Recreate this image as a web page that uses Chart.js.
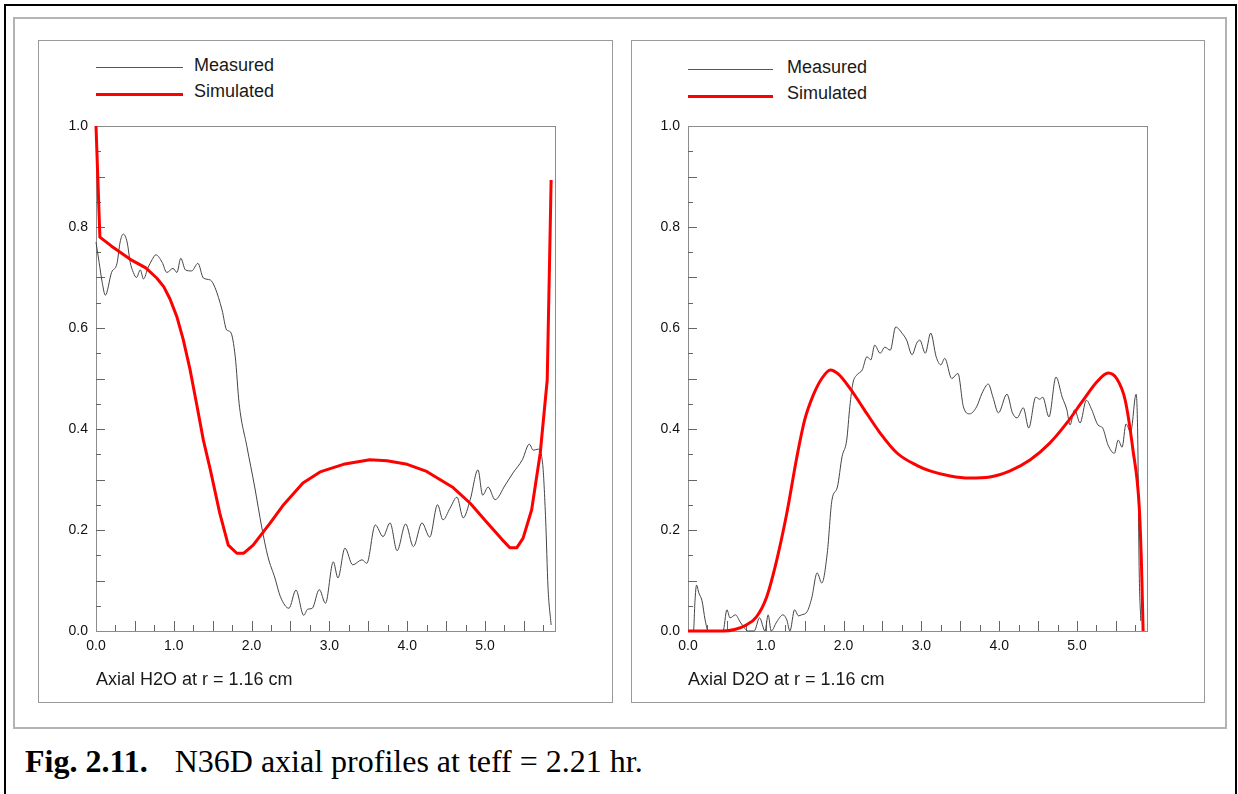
<!DOCTYPE html>
<html>
<head>
<meta charset="utf-8">
<title>N36D axial profiles</title>
<script src="https://cdn.jsdelivr.net/npm/chart.js@4.4.1/dist/chart.umd.min.js"></script>
<style>
  body { margin: 0; background: #fff; width: 1238px; height: 794px; overflow: hidden; position: relative;
         font-family: "Liberation Sans", Arial, sans-serif; }
  .box { position: absolute; box-sizing: border-box; }
  #outer { left: 4px; top: 4px; width: 1233px; height: 820px; border: 2px solid #000; }
  #frame { left: 13px; top: 17px; width: 1214px; height: 712px; border: 2px solid #b4b4b4; }
  .panel { top: 40px; height: 663px; border: 1px solid #9a9a9a; }
  #panelL { left: 38px; width: 575px; }
  #panelR { left: 631px; width: 574px; }
  canvas { position: absolute; }
  .leg-line { position: absolute; height: 0; }
  .leg-text { position: absolute; font-size: 18px; line-height: 18px; color: #1a1a1a; white-space: nowrap; }
  #caption { position: absolute; left: 25px; top: 745px; font-family: "Liberation Serif", "Times New Roman", serif;
             font-size: 32px; line-height: 32px; color: #000; white-space: nowrap; }
  #caption b { margin-right: 27px; }
</style>
</head>
<body>
<div id="outer" class="box"></div>
<div id="frame" class="box"></div>
<div id="panelL" class="box panel"></div>
<div id="panelR" class="box panel"></div>

<!-- legends -->
<div class="leg-line" style="left:96px; top:67px; width:87px; border-top:1px solid #555;"></div>
<div class="leg-text" style="left:194px; top:56px;">Measured</div>
<div class="leg-line" style="left:96px; top:93px; width:87px; border-top:3px solid #f00;"></div>
<div class="leg-text" style="left:194px; top:82px;">Simulated</div>

<div class="leg-line" style="left:688px; top:69px; width:85px; border-top:1px solid #555;"></div>
<div class="leg-text" style="left:787px; top:58px;">Measured</div>
<div class="leg-line" style="left:688px; top:95px; width:85px; border-top:3px solid #f00;"></div>
<div class="leg-text" style="left:787px; top:84px;">Simulated</div>

<canvas id="chartH2O" width="572" height="660" style="left:39px; top:41px;"></canvas>
<canvas id="chartD2O" width="571" height="660" style="left:632px; top:41px;"></canvas>

<div id="caption"><b>Fig. 2.11.</b>N36D axial profiles at teff = 2.21 hr.</div>

<script>
const xTickValues = [0, 1, 2, 3, 4, 5];
const yTickValues = [0, 0.2, 0.4, 0.6, 0.8, 1.0];

/* ---------- H2O (left) ---------- */
const h2oMeasuredX = [0.0, 0.04, 0.08, 0.12, 0.2, 0.27, 0.31, 0.35, 0.40, 0.44,
  0.48, 0.52, 0.57, 0.61, 0.67, 0.72, 0.77, 0.85, 0.91, 0.99,
  1.04, 1.09, 1.15, 1.23, 1.31, 1.38, 1.47, 1.53, 1.62, 1.68,
  1.73, 1.79, 1.84, 1.94, 2.04, 2.13, 2.21, 2.30, 2.37, 2.48,
  2.57, 2.67, 2.72, 2.78, 2.87, 2.95, 3.05, 3.11, 3.20, 3.30,
  3.42, 3.48, 3.59, 3.69, 3.78, 3.87, 3.98, 4.08, 4.19, 4.29,
  4.39, 4.46, 4.55, 4.64, 4.72, 4.81, 4.91, 4.97, 5.04, 5.13,
  5.26, 5.36, 5.48, 5.57, 5.62, 5.68, 5.74, 5.78, 5.81, 5.85];
const h2oMeasuredY = [0.77, 0.73, 0.69, 0.665, 0.71, 0.728, 0.77, 0.786, 0.77, 0.73,
  0.71, 0.70, 0.715, 0.697, 0.72, 0.735, 0.745, 0.73, 0.71, 0.718,
  0.71, 0.738, 0.715, 0.713, 0.728, 0.699, 0.695, 0.68, 0.636, 0.596,
  0.592, 0.543, 0.45, 0.365, 0.285, 0.206, 0.147, 0.105, 0.068, 0.045,
  0.081, 0.031, 0.043, 0.045, 0.082, 0.055, 0.137, 0.105, 0.164, 0.131,
  0.141, 0.134, 0.21, 0.187, 0.214, 0.159, 0.212, 0.167, 0.214, 0.186,
  0.25, 0.22, 0.243, 0.265, 0.224, 0.26, 0.319, 0.269, 0.285, 0.26,
  0.289, 0.313, 0.339, 0.37, 0.358, 0.36, 0.333, 0.22, 0.087, 0.012];

const h2oSimulatedX = [0, 0.05, 0.2, 0.44, 0.64, 0.78, 0.87, 0.95, 1.04, 1.12,
  1.21, 1.30, 1.38, 1.47, 1.59, 1.70, 1.81, 1.90, 2.02, 2.24,
  2.40, 2.66, 2.88, 3.18, 3.52, 3.74, 4.0, 4.25, 4.59, 4.81,
  5.02, 5.22, 5.32, 5.41, 5.49, 5.60, 5.71, 5.80, 5.84, 5.85];
const h2oSimulatedY = [1.0, 0.78, 0.762, 0.736, 0.719, 0.699, 0.682, 0.658, 0.622, 0.578,
  0.517, 0.444, 0.378, 0.319, 0.234, 0.170, 0.154, 0.154, 0.17, 0.214,
  0.248, 0.293, 0.315, 0.330, 0.339, 0.337, 0.330, 0.316, 0.284, 0.253,
  0.216, 0.181, 0.165, 0.165, 0.184, 0.24, 0.352, 0.497, 0.81, 0.893];

/* ---------- D2O (right) ---------- */
const d2oMeasuredX = [0, 0.07, 0.09, 0.11, 0.14, 0.18, 0.22, 0.26, 0.45, 0.50,
  0.54, 0.61, 0.67, 0.73, 0.77, 0.85, 0.92, 0.99, 1.03, 1.07,
  1.14, 1.22, 1.27, 1.31, 1.37, 1.42, 1.46, 1.53, 1.59, 1.66,
  1.72, 1.79, 1.85, 1.92, 1.98, 2.04, 2.08, 2.12, 2.17, 2.24,
  2.30, 2.35, 2.40, 2.47, 2.53, 2.60, 2.67, 2.75, 2.81, 2.88,
  2.94, 2.98, 3.05, 3.12, 3.19, 3.25, 3.30, 3.39, 3.47, 3.54,
  3.62, 3.71, 3.78, 3.86, 3.92, 3.99, 4.10, 4.17, 4.23, 4.31,
  4.38, 4.47, 4.52, 4.56, 4.64, 4.73, 4.81, 4.87, 4.91, 4.97,
  5.04, 5.12, 5.19, 5.27, 5.33, 5.40, 5.48, 5.53, 5.58, 5.63,
  5.69, 5.76, 5.78, 5.80, 5.82];
const d2oMeasuredY = [0, 0, 0.06, 0.091, 0.075, 0.06, 0.022, 0, 0, 0.042,
  0.026, 0.032, 0.018, 0.005, 0, 0, 0.026, 0, 0.032, 0,
  0.018, 0.032, 0.022, 0, 0.042, 0.03, 0.032, 0.038, 0.065, 0.115,
  0.095, 0.154, 0.259, 0.285, 0.345, 0.378, 0.444, 0.491, 0.507, 0.517,
  0.543, 0.537, 0.566, 0.55, 0.562, 0.556, 0.602, 0.59, 0.576, 0.547,
  0.57, 0.576, 0.55, 0.59, 0.543, 0.527, 0.54, 0.50, 0.51, 0.444,
  0.43, 0.444, 0.471, 0.489, 0.463, 0.432, 0.469, 0.432, 0.422, 0.442,
  0.402, 0.463, 0.459, 0.463, 0.424, 0.503, 0.463, 0.438, 0.408, 0.438,
  0.412, 0.457, 0.438, 0.408, 0.402, 0.368, 0.352, 0.378, 0.364, 0.41,
  0.394, 0.469, 0.392, 0.115, 0.02];

const d2oSimulatedX = [0, 0.45, 0.6, 0.75, 0.88, 1.01, 1.14, 1.27, 1.40, 1.50,
  1.61, 1.72, 1.83, 1.93, 2.08, 2.25, 2.47, 2.69, 2.94, 3.11,
  3.37, 3.62, 3.88, 4.14, 4.40, 4.65, 4.87, 5.08, 5.26, 5.40,
  5.51, 5.62, 5.72, 5.80, 5.83, 5.85];
const d2oSimulatedY = [0, 0, 0.003, 0.012, 0.028, 0.067, 0.14, 0.233, 0.345, 0.418,
  0.467, 0.50, 0.517, 0.509, 0.481, 0.442, 0.392, 0.352, 0.328, 0.317,
  0.307, 0.303, 0.305, 0.317, 0.339, 0.372, 0.412, 0.457, 0.494, 0.511,
  0.50, 0.457, 0.358, 0.246, 0.127, 0.0];

function toPoints(xs, ys) {
    const n = Math.min(xs.length, ys.length);
    const pts = [];
    for (let i = 0; i < n; i++) pts.push({ x: xs[i], y: ys[i] });
    return pts;
}

/* frame round the plot plus the small inward tick marks */
const frameTicks = {
    id: "frameTicks",
    beforeDatasetsDraw(chart) {
        const { ctx, chartArea: a, scales } = chart;
        const xs = scales.x, ys = scales.y;
        ctx.save();
        ctx.strokeStyle = "#8c8c8c";
        ctx.lineWidth = 1;
        ctx.strokeRect(a.left + 0.5, a.top + 0.5, a.right - a.left, a.bottom - a.top);

        ctx.strokeStyle = "#666";
        ctx.beginPath();
        for (let i = 1; i < 20; i++) {
            const py = Math.round(ys.getPixelForValue(i * 0.05)) + 0.5;
            const len = i % 2 === 0 ? 9 : 5;
            ctx.moveTo(a.left, py);
            ctx.lineTo(a.left + len, py);
        }
        for (let i = 1; i <= 23; i++) {
            const px = Math.round(xs.getPixelForValue(i * 0.25)) + 0.5;
            const len = i % 2 === 0 ? 10 : 6;
            ctx.moveTo(px, a.bottom);
            ctx.lineTo(px, a.bottom - len);
        }
        ctx.stroke();
        ctx.restore();
    }
};

function makeChart(id, measured, simulated, title, yWidth, smoothSim) {
    const ctx = document.getElementById(id).getContext("2d");
    const simSet = {
        label: "Simulated",
        data: simulated,
        borderColor: "#ff0000",
        borderWidth: 3,
        pointRadius: 0,
        tension: 0,
        borderJoinStyle: "round",
        clip: false,
        order: 0
    };
    if (smoothSim) simSet.cubicInterpolationMode = "monotone";

    return new Chart(ctx, {
        type: "line",
        data: {
            datasets: [
                simSet,
                {
                    label: "Measured",
                    data: measured,
                    borderColor: "#444",
                    borderWidth: 1,
                    pointRadius: 0,
                    cubicInterpolationMode: "monotone",
                    clip: false,
                    order: 1
                }
            ]
        },
        options: {
            responsive: false,
            animation: false,
            devicePixelRatio: 1,
            layout: { padding: { top: 85, right: 56, left: 0, bottom: 0 } },
            plugins: { legend: { display: false }, tooltip: { enabled: false } },
            scales: {
                x: {
                    type: "linear",
                    min: 0,
                    max: 5.9,
                    grid: { display: false, drawTicks: false },
                    border: { display: false },
                    afterBuildTicks: s => { s.ticks = xTickValues.map(v => ({ value: v })); },
                    afterFit: s => { s.height = 70; },
                    ticks: {
                        autoSkip: false,
                        maxRotation: 0,
                        padding: 7,
                        color: "#111",
                        font: { family: "Liberation Sans", size: 14 },
                        callback: v => Number(v).toFixed(1)
                    },
                    title: {
                        display: true,
                        text: title,
                        align: "start",
                        color: "#1a1a1a",
                        font: { family: "Liberation Sans", size: 18 },
                        padding: { top: 0, bottom: 10 }
                    }
                },
                y: {
                    min: 0,
                    max: 1,
                    grid: { display: false, drawTicks: false },
                    border: { display: false },
                    afterBuildTicks: s => { s.ticks = yTickValues.map(v => ({ value: v })); },
                    afterFit: s => { s.width = yWidth; },
                    ticks: {
                        padding: 8,
                        color: "#111",
                        font: { family: "Liberation Sans", size: 14 },
                        callback: v => Number(v).toFixed(1)
                    }
                }
            }
        },
        plugins: [frameTicks]
    });
}

makeChart("chartH2O", toPoints(h2oMeasuredX, h2oMeasuredY), toPoints(h2oSimulatedX, h2oSimulatedY),
    "Axial H2O at r = 1.16 cm", 57, false);
makeChart("chartD2O", toPoints(d2oMeasuredX, d2oMeasuredY), toPoints(d2oSimulatedX, d2oSimulatedY),
    "Axial D2O at r = 1.16 cm", 56, true);
</script>
</body>
</html>
